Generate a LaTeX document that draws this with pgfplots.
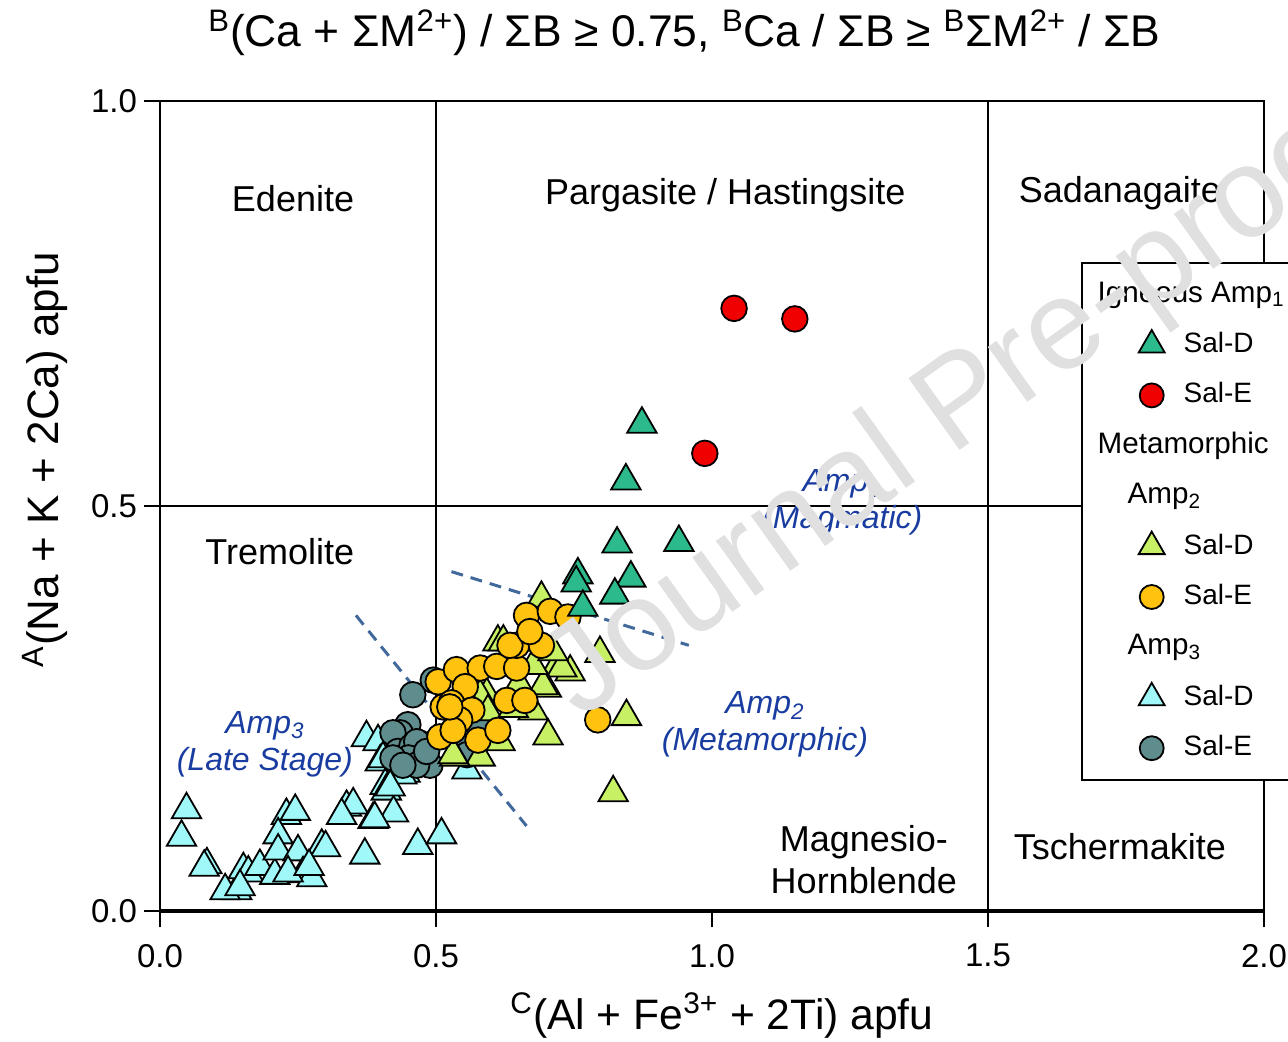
\documentclass[border=0pt]{standalone}
\usepackage{fontspec}
\setmainfont{Liberation Sans}
\usepackage{pgfplots}
\pgfplotsset{compat=1.18}
\definecolor{tealD}{RGB}{44,186,140}
\definecolor{redE}{RGB}{240,0,0}
\definecolor{limeD}{RGB}{200,240,100}
\definecolor{orangeE}{RGB}{255,195,15}
\definecolor{cyanD}{RGB}{160,248,248}
\definecolor{greyE}{RGB}{95,140,140}
\definecolor{annot}{RGB}{25,60,160}
\definecolor{dashc}{RGB}{65,105,155}
\newcommand{\fsz}[2]{\fontsize{#1}{#2}\selectfont}
\pgfplotsset{
  triD/.style={only marks, mark=triangle*, mark size=8.5pt, mark options={draw=black, line width=0.9pt, fill=#1}},
  cirE/.style={only marks, mark=*, mark size=6.4pt, mark options={draw=black, line width=0.9pt, fill=#1}},
  ltriD/.style={only marks, mark=triangle*, mark size=7.5pt, mark options={draw=black, line width=0.9pt, fill=#1}},
  lcirE/.style={only marks, mark=*, mark size=6pt, mark options={draw=black, line width=0.9pt, fill=#1}},
}
\begin{document}
\begin{tikzpicture}
\begin{axis}[
  scale only axis, width=552pt, height=405pt,
  xmin=0, xmax=2, ymin=0, ymax=1,
  clip=false,
  axis line style={line width=0.9pt},
  xtick={0,0.5,1,1.5,2}, ytick={0,0.5,1},
  xtick pos=left, ytick pos=left,
  tick align=outside, major tick length=8pt,
  every tick/.style={black, line width=1pt},
  /pgf/number format/assume math mode=true,
  xticklabel style={/pgf/number format/fixed,/pgf/number format/fixed zerofill,/pgf/number format/precision=1, font=\fsz{16.5}{19}, yshift=-5pt},
  yticklabel style={/pgf/number format/fixed,/pgf/number format/fixed zerofill,/pgf/number format/precision=1, font=\fsz{16.5}{19}},
  legend cell align=left,
  legend style={at={(0.834,0.801)}, anchor=north west, draw=black, line width=0.9pt, fill=white,
    font=\fsz{14}{16}, inner xsep=26.5pt, inner ysep=7pt, row sep=7.7pt,
    nodes={text height=10.5pt, text depth=3pt}},
]
% field boundaries
\draw[line width=0.9pt] (axis cs:0.5,0) -- (axis cs:0.5,1);
\draw[line width=0.9pt] (axis cs:1.5,0) -- (axis cs:1.5,1);
\draw[line width=0.9pt] (axis cs:0,0.5) -- (axis cs:2,0.5);
\draw[line width=2pt] (axis cs:0,0) -- (axis cs:2,0);
% dashed separators
\draw[dashc, line width=1.5pt, dash pattern=on 6pt off 4pt] (axis cs:0.355,0.365) -- (axis cs:0.664,0.105);
\draw[dashc, line width=1.5pt, dash pattern=on 6pt off 4pt] (axis cs:0.528,0.419) -- (axis cs:0.958,0.328);

% Amp3 Sal-D
\addplot[triD=cyanD, forget plot] coordinates {
(0.048,0.125) (0.039,0.091) (0.085,0.057) (0.080,0.054) (0.139,0.025) (0.118,0.025)
(0.151,0.051) (0.160,0.047) (0.181,0.055) (0.208,0.044) (0.229,0.118) (0.245,0.123)
(0.214,0.094) (0.214,0.074) (0.250,0.073) (0.293,0.080) (0.300,0.078) (0.259,0.046)
(0.275,0.041) (0.232,0.047) (0.338,0.128) (0.350,0.131) (0.329,0.118) (0.374,0.214)
(0.395,0.209) (0.399,0.184) (0.404,0.188) (0.408,0.155) (0.410,0.148) (0.423,0.121)
(0.386,0.113) (0.389,0.114) (0.371,0.069) (0.467,0.081) (0.510,0.094) (0.444,0.170)
(0.438,0.168) (0.417,0.153) (0.556,0.174) (0.145,0.030) (0.270,0.055)
};
% Amp3 Sal-E
\addplot[cirE=greyE, forget plot] coordinates {
(0.458,0.267) (0.495,0.285) (0.447,0.226) (0.449,0.230) (0.435,0.220) (0.422,0.220)
(0.431,0.197) (0.456,0.203) (0.471,0.207) (0.465,0.209) (0.450,0.189) (0.477,0.186)
(0.489,0.180) (0.422,0.189) (0.465,0.180) (0.440,0.180) (0.483,0.197) (0.547,0.217)
(0.556,0.193) (0.580,0.223)
};
% Amp2 Sal-D
\addplot[triD=limeD, forget plot] coordinates {
(0.691,0.386) (0.612,0.332) (0.622,0.332) (0.718,0.302) (0.743,0.295) (0.728,0.300)
(0.797,0.318) (0.700,0.275) (0.694,0.278) (0.676,0.247) (0.703,0.216) (0.845,0.240)
(0.821,0.146) (0.592,0.267) (0.580,0.265) (0.580,0.190) (0.534,0.190) (0.601,0.214)
(0.616,0.209) (0.550,0.267) (0.594,0.246) (0.676,0.303) (0.712,0.320) (0.531,0.193)
(0.650,0.280) (0.640,0.250)
};
% Amp2 Sal-E
\addplot[cirE=orangeE, forget plot] coordinates {
(0.504,0.283) (0.537,0.298) (0.580,0.300) (0.610,0.302) (0.646,0.300) (0.553,0.277)
(0.513,0.252) (0.528,0.257) (0.565,0.248) (0.543,0.236) (0.507,0.215) (0.531,0.223)
(0.576,0.211) (0.612,0.223) (0.628,0.260) (0.661,0.260) (0.646,0.328) (0.691,0.328)
(0.664,0.365) (0.707,0.370) (0.739,0.363) (0.634,0.328) (0.670,0.345) (0.793,0.236)
(0.525,0.252)
};
% Amp1 Sal-D
\addplot[triD=tealD, forget plot] coordinates {
(0.873,0.601) (0.844,0.531) (0.828,0.453) (0.940,0.455) (0.757,0.415) (0.754,0.405)
(0.853,0.411) (0.824,0.390) (0.766,0.375)
};
% Amp1 Sal-E
\addplot[cirE=redE, forget plot] coordinates {
(1.040,0.744) (1.150,0.731) (0.987,0.565)
};

% legend
\addlegendimage{empty legend}\addlegendentry{\hspace*{-35.5pt}{\fsz{14.8}{16}Igneous Amp\textsubscript{1}}\hspace*{20pt}}
\addlegendimage{ltriD=tealD}\addlegendentry{\hspace*{7.5pt}Sal-D}
\addlegendimage{lcirE=redE}\addlegendentry{\hspace*{7.5pt}Sal-E}
\addlegendimage{empty legend}\addlegendentry{\hspace*{-35.5pt}{\fsz{14.8}{16}Metamorphic}}
\addlegendimage{empty legend}\addlegendentry{\hspace*{-20.5pt}{\fsz{14.8}{16}Amp\textsubscript{2}}}
\addlegendimage{ltriD=limeD}\addlegendentry{\hspace*{7.5pt}Sal-D}
\addlegendimage{lcirE=orangeE}\addlegendentry{\hspace*{7.5pt}Sal-E}
\addlegendimage{empty legend}\addlegendentry{\hspace*{-20.5pt}{\fsz{14.8}{16}Amp\textsubscript{3}}}
\addlegendimage{ltriD=cyanD}\addlegendentry{\hspace*{7.5pt}Sal-D}
\addlegendimage{lcirE=greyE}\addlegendentry{\hspace*{7.5pt}Sal-E}

% field names
\node[font=\fsz{18}{21}] at (axis cs:0.241,0.880) {Edenite};
\node[font=\fsz{18}{21}] at (axis cs:1.024,0.884) {Pargasite / Hastingsite};
\node[font=\fsz{18}{21}] at (axis cs:1.739,0.886) {Sadanagaite};
\node[font=\fsz{18}{21}] at (axis cs:0.217,0.444) {Tremolite};
\node[font=\fsz{18}{21}, align=center] at (axis cs:1.275,0.063) {Magnesio-\\Hornblende};
\node[font=\fsz{18}{21}] at (axis cs:1.739,0.080) {Tschermakite};
% group annotations
\node[font=\fsz{16}{18.5}\itshape, text=annot, align=center] at (axis cs:0.190,0.206) {Amp\textsubscript{3}\\(Late Stage)};
\node[font=\fsz{16}{18.5}\itshape, text=annot, align=center] at (axis cs:1.096,0.230) {Amp\textsubscript{2}\\(Metamorphic)};
\node[font=\fsz{16}{18.5}\itshape, text=annot, align=center] at (axis cs:1.236,0.504) {Amp\textsubscript{1}\\(Magmatic)};
% title and axis labels
\node[font=\fsz{22.2}{25}] at (rel axis cs:0.475,1.084) {\textsuperscript{B}(Ca + ΣM\textsuperscript{2+}) / ΣB ≥ 0.75, \textsuperscript{B}Ca / ΣB ≥ \textsuperscript{B}ΣM\textsuperscript{2+} / ΣB};
\node[font=\fsz{21.3}{25}] at (rel axis cs:0.509,-0.129) {\textsuperscript{C}(Al + Fe\textsuperscript{3+} + 2Ti) apfu};
\node[font=\fsz{22}{25}, rotate=90] at (rel axis cs:-0.104,0.557) {\textsuperscript{A}(Na + K + 2Ca) apfu};
\end{axis}
% watermark
\node[rotate=35.5, anchor=base west, text=black!12, font=\fsz{64}{76}] at (207.5pt,93pt) {Journal Pre-proof};
\pgfresetboundingbox
\useasboundingbox (-80pt,-65pt) rectangle (564pt,455.5pt);
\end{tikzpicture}
\end{document}
